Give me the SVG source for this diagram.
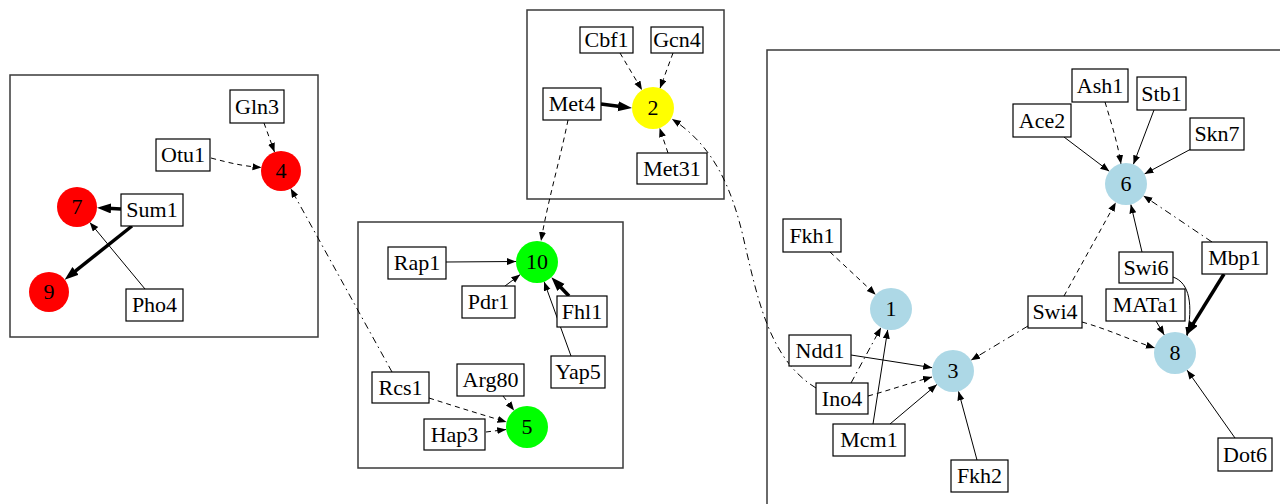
<svg xmlns="http://www.w3.org/2000/svg" width="1280" height="504" viewBox="0 0 1280 504">
<style>
.cl{fill:none;stroke:#3a3a3a;stroke-width:1.5}
.bx{fill:#fff;stroke:#000;stroke-width:1.2}
.t{font-family:"Liberation Serif","Times New Roman",serif;font-size:22px;text-anchor:middle;fill:#000}
.e{fill:none;stroke:#000;stroke-width:1}
.th{fill:none;stroke:#000;stroke-width:3.5}
.da{stroke-dasharray:5,4}
.dd{stroke-dasharray:7,4,1.5,4}
.red{fill:#ff0000}.yel{fill:#ffff00}.grn{fill:#00ff00}.blu{fill:#add8e6}
</style>
<defs>
<marker id="a" markerUnits="userSpaceOnUse" markerWidth="10" markerHeight="8" refX="9" refY="3.5" orient="auto"><path d="M0,0 L9,3.5 L0,7 z" fill="#000"/></marker>
<marker id="A" markerUnits="userSpaceOnUse" markerWidth="15" markerHeight="11" refX="8" refY="5" orient="auto"><path d="M0,0 L14,5 L0,10 z" fill="#000"/></marker>
</defs>
<rect width="1280" height="504" fill="#fff"/>
<g id="clusters">
<rect class="cl" x="10" y="75" width="308" height="262"/>
<rect class="cl" x="527" y="10" width="197" height="189"/>
<rect class="cl" x="358" y="222" width="265" height="246"/>
<rect class="cl" x="767" y="50" width="530" height="470"/>
</g>
<g id="connectors" marker-end="url(#a)">
<path class="e da" d="M264,123 L274.5,152"/>
<path class="e da" d="M211,158 C230,163 242,166 261.5,167.5"/>
<path class="th" d="M121,209 L103,208" marker-end="url(#A)"/>
<path class="th" d="M132,226 L69.3,275.9" marker-end="url(#A)"/>
<path class="e" d="M145,289 L89.8,222.4"/>
<path class="e dd" d="M392,372 L290.7,188.5"/>
<path class="e da" d="M620,53 L642,90"/>
<path class="e da" d="M673,53 L660,88.3"/>
<path class="th" d="M601,104 L626,107.3" marker-end="url(#A)"/>
<path class="e da" d="M668,153 L659.6,128"/>
<path class="e dd" d="M816,388 C770,360 758,300 745,245 C732,185 712,145 672,119"/>
<path class="e da" d="M568,120 C560,160 548,200 541,241"/>
<path class="e" d="M446,262 L516,261.5"/>
<path class="e" d="M505,286 L520.2,274.6"/>
<path class="th" d="M569,296 L555.5,281.7" marker-end="url(#A)"/>
<path class="e" d="M571,356 L544.1,281.7"/>
<path class="e da" d="M503,396 L514.1,410.4"/>
<path class="e da" d="M429,398 C460,408 480,414 506.5,422"/>
<path class="e da" d="M486,432 L506.2,429.5"/>
<path class="e" d="M1064,137 L1109.3,171.3"/>
<path class="e da" d="M1105,102 C1112,125 1118,145 1121,164"/>
<path class="e" d="M1154,110 L1133.4,164.3"/>
<path class="e" d="M1191,149 L1144.5,174"/>
<path class="e da" d="M1064,296 L1115.8,202.4"/>
<path class="e" d="M1142,252 L1130.8,204.4"/>
<path class="e dd" d="M1212,242 L1143.4,195.7"/>
<path class="th" d="M1224,274 L1189.2,330.1" marker-end="url(#A)"/>
<path class="e" d="M1173,277 C1190,283 1193,305 1187,336"/>
<path class="e" d="M1156,321 L1164.3,334.9"/>
<path class="e da" d="M1082,322 C1110,330 1130,340 1155,348"/>
<path class="e dd" d="M1028,326 L971,360.2"/>
<path class="e da" d="M830,252 L875.7,294.7"/>
<path class="e" d="M851,355 L932.2,367.7"/>
<path class="e da" d="M868,396 C890,390 910,383 932,377"/>
<path class="e dd" d="M851,383 L881,327.5"/>
<path class="e" d="M873,424 L887.7,329.7"/>
<path class="e" d="M890,424 L936.9,384.5"/>
<path class="e" d="M977,460 L958.5,391.3"/>
<path class="e" d="M1235,438 L1187.1,370.2"/>
</g>
<g id="n4"><circle class="red" cx="281" cy="171" r="20"/><text class="t" x="281" y="178">4</text></g>
<g id="n7"><circle class="red" cx="77" cy="207" r="20"/><text class="t" x="77" y="214">7</text></g>
<g id="n9"><circle class="red" cx="49" cy="292" r="20"/><text class="t" x="49" y="299">9</text></g>
<g id="n2"><circle class="yel" cx="653" cy="108" r="21"/><text class="t" x="653" y="115">2</text></g>
<g id="n10"><circle class="grn" cx="537" cy="262" r="21"/><text class="t" x="537" y="269">10</text></g>
<g id="n5"><circle class="grn" cx="527" cy="427" r="21"/><text class="t" x="527" y="434">5</text></g>
<g id="n6"><circle class="blu" cx="1126" cy="184" r="21"/><text class="t" x="1126" y="191">6</text></g>
<g id="n1"><circle class="blu" cx="891" cy="309" r="21"/><text class="t" x="891" y="316">1</text></g>
<g id="n3"><circle class="blu" cx="953" cy="371" r="21"/><text class="t" x="953" y="378">3</text></g>
<g id="n8"><circle class="blu" cx="1175" cy="353" r="21"/><text class="t" x="1175" y="360">8</text></g>
<g id="Gln3"><rect class="bx" x="230" y="90" width="54" height="33"/><text class="t" x="257" y="114">Gln3</text></g>
<g id="Otu1"><rect class="bx" x="156" y="139" width="54" height="32"/><text class="t" x="183" y="162">Otu1</text></g>
<g id="Sum1"><rect class="bx" x="121" y="194" width="62" height="32"/><text class="t" x="152" y="217">Sum1</text></g>
<g id="Pho4"><rect class="bx" x="126" y="289" width="57" height="32"/><text class="t" x="154.5" y="312">Pho4</text></g>
<g id="Cbf1"><rect class="bx" x="580" y="27" width="53" height="26"/><text class="t" x="606.5" y="47">Cbf1</text></g>
<g id="Gcn4"><rect class="bx" x="651" y="27" width="52" height="26"/><text class="t" x="677" y="47">Gcn4</text></g>
<g id="Met4"><rect class="bx" x="543" y="88" width="58" height="32"/><text class="t" x="572" y="111">Met4</text></g>
<g id="Met31"><rect class="bx" x="637" y="153" width="70" height="31"/><text class="t" x="672" y="176">Met31</text></g>
<g id="Rap1"><rect class="bx" x="388" y="247" width="58" height="32"/><text class="t" x="417" y="270">Rap1</text></g>
<g id="Pdr1"><rect class="bx" x="462" y="286" width="53" height="32"/><text class="t" x="488.5" y="309">Pdr1</text></g>
<g id="Fhl1"><rect class="bx" x="557" y="296" width="50" height="31"/><text class="t" x="582" y="319">Fhl1</text></g>
<g id="Yap5"><rect class="bx" x="551" y="356" width="54" height="32"/><text class="t" x="578" y="379">Yap5</text></g>
<g id="Arg80"><rect class="bx" x="457" y="364" width="67" height="32"/><text class="t" x="490.5" y="387">Arg80</text></g>
<g id="Rcs1"><rect class="bx" x="372" y="372" width="57" height="31"/><text class="t" x="400.5" y="395">Rcs1</text></g>
<g id="Hap3"><rect class="bx" x="424" y="419" width="61" height="31"/><text class="t" x="454.5" y="442">Hap3</text></g>
<g id="Ash1"><rect class="bx" x="1072" y="69" width="56" height="33"/><text class="t" x="1100" y="93">Ash1</text></g>
<g id="Stb1"><rect class="bx" x="1137" y="77" width="49" height="33"/><text class="t" x="1161.5" y="101">Stb1</text></g>
<g id="Ace2"><rect class="bx" x="1013" y="104" width="58" height="33"/><text class="t" x="1042" y="128">Ace2</text></g>
<g id="Skn7"><rect class="bx" x="1190" y="118" width="54" height="32"/><text class="t" x="1217" y="141">Skn7</text></g>
<g id="Fkh1"><rect class="bx" x="783" y="219" width="58" height="33"/><text class="t" x="812" y="243">Fkh1</text></g>
<g id="Swi6"><rect class="bx" x="1119" y="252" width="54" height="31"/><text class="t" x="1146" y="275">Swi6</text></g>
<g id="Mbp1"><rect class="bx" x="1202" y="242" width="65" height="32"/><text class="t" x="1234.5" y="265">Mbp1</text></g>
<g id="MATa1"><rect class="bx" x="1106" y="289" width="79" height="32"/><text class="t" x="1145.5" y="312">MATa1</text></g>
<g id="Swi4"><rect class="bx" x="1028" y="296" width="54" height="32"/><text class="t" x="1055" y="319">Swi4</text></g>
<g id="Ndd1"><rect class="bx" x="789" y="335" width="62" height="31"/><text class="t" x="820" y="358">Ndd1</text></g>
<g id="Ino4"><rect class="bx" x="816" y="383" width="52" height="31"/><text class="t" x="842" y="406">Ino4</text></g>
<g id="Mcm1"><rect class="bx" x="833" y="424" width="72" height="32"/><text class="t" x="869" y="447">Mcm1</text></g>
<g id="Fkh2"><rect class="bx" x="951" y="460" width="57" height="32"/><text class="t" x="979.5" y="483">Fkh2</text></g>
<g id="Dot6"><rect class="bx" x="1218" y="438" width="54" height="33"/><text class="t" x="1245" y="462">Dot6</text></g>
</svg>
